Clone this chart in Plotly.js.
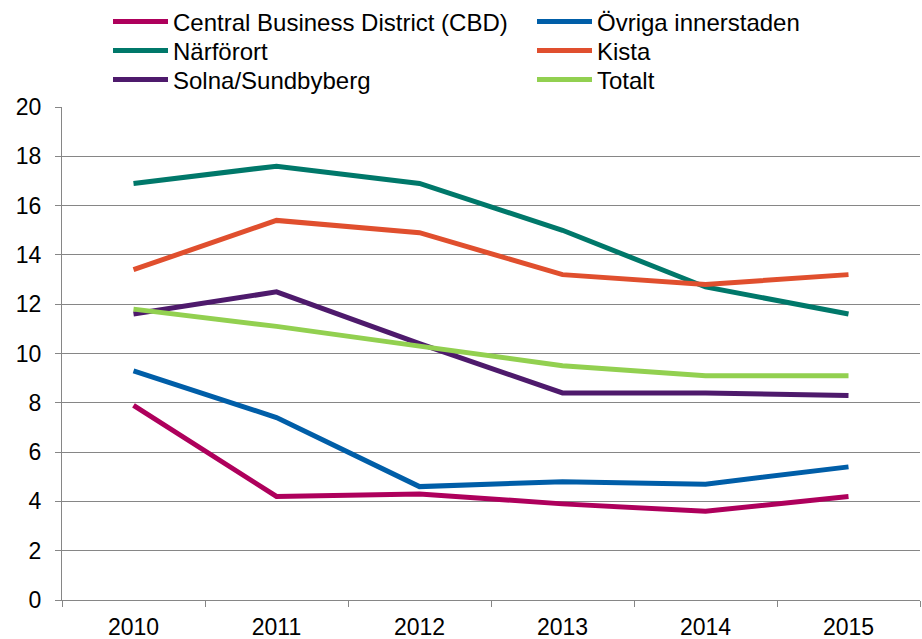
<!DOCTYPE html>
<html>
<head>
<meta charset="utf-8">
<script src="https://cdn.plot.ly/plotly-3.0.1.min.js"></script>
<style>html,body{margin:0;padding:0;background:#fff;}#chart{width:922px;height:639px;}</style>
</head>
<body>
<div id="chart"></div>
<script>
const years = ["2010", "2011", "2012", "2013", "2014", "2015"];
const cbd = [7.9, 4.2, 4.3, 3.9, 3.6, 4.2];
const ovriga = [9.3, 7.4, 4.6, 4.8, 4.7, 5.4];
const narfort = [16.9, 17.6, 16.9, 15.0, 12.7, 11.6];
const kista = [13.4, 15.4, 14.9, 13.2, 12.8, 13.2];
const solna = [11.6, 12.5, 10.4, 8.4, 8.4, 8.3];
const totalt = [11.8, 11.1, 10.3, 9.5, 9.1, 9.1];
const yTicks = [0, 2, 4, 6, 8, 10, 12, 14, 16, 18, 20];

const seriesNames = ["Central Business District (CBD)", "Övriga innerstaden", "Närförort", "Kista", "Solna/Sundbyberg", "Totalt"];
const seriesValues = [cbd, ovriga, narfort, kista, solna, totalt];
const seriesColors = ["#AE005C", "#005EA8", "#00786A", "#E04F2E", "#4E1A6C", "#92D050"];

const W = 922, H = 639;
const M = {l: 62, r: 2, t: 107, b: 39};
const plotW = W - M.l - M.r, plotH = H - M.t - M.b;

// legend slot placement (column left edge px, row centre px)
const colLeft = [108, 532];
const rowMid = [22, 51, 80];

const font = {family: "Liberation Sans, Arial, sans-serif", size: 24, color: "#000"};
const tickFont = {family: "Liberation Sans, Arial, sans-serif", size: 23, color: "#000"};

const traces = seriesNames.map((n, i) => ({
  type: "scatter",
  mode: "lines",
  name: n,
  x: years,
  y: seriesValues[i],
  line: {color: seriesColors[i], width: 5},
  legend: i === 0 ? "legend" : "legend" + (i + 1)
}));

const layout = {
  width: W, height: H,
  margin: {l: M.l, r: M.r, t: M.t, b: M.b, autoexpand: false},
  paper_bgcolor: "#fff",
  plot_bgcolor: "#fff",
  font: font,
  showlegend: true,
  xaxis: {
    type: "category",
    range: [-0.5, 5.5],
    tickson: "boundaries",
    ticks: "outside",
    ticklen: 6,
    tickcolor: "#868686",
    showline: true,
    linecolor: "#868686",
    linewidth: 1,
    showgrid: false,
    zeroline: false,
    tickfont: tickFont,
    ticklabelstandoff: 6
  },
  yaxis: {
    range: [0, 20],
    tickvals: yTicks,
    ticktext: yTicks.map(String),
    ticks: "outside",
    ticklen: 6,
    tickcolor: "#868686",
    showline: true,
    linecolor: "#868686",
    linewidth: 1,
    showgrid: true,
    gridcolor: "#868686",
    gridwidth: 1,
    zeroline: false,
    tickfont: tickFont,
    ticklabelstandoff: 9
  }
};

seriesNames.forEach((n, i) => {
  const key = i === 0 ? "legend" : "legend" + (i + 1);
  const col = i % 2, row = Math.floor(i / 2);
  layout[key] = {
    orientation: "v",
    xref: "paper", yref: "paper",
    xanchor: "left", yanchor: "middle",
    x: (colLeft[col] - M.l) / plotW,
    y: 1 + (M.t - rowMid[row]) / plotH,
    font: font,
    bgcolor: "rgba(0,0,0,0)",
    borderwidth: 0,
    itemwidth: 55
  };
});

Plotly.newPlot("chart", traces, layout, {displayModeBar: false, staticPlot: true});
</script>
</body>
</html>
